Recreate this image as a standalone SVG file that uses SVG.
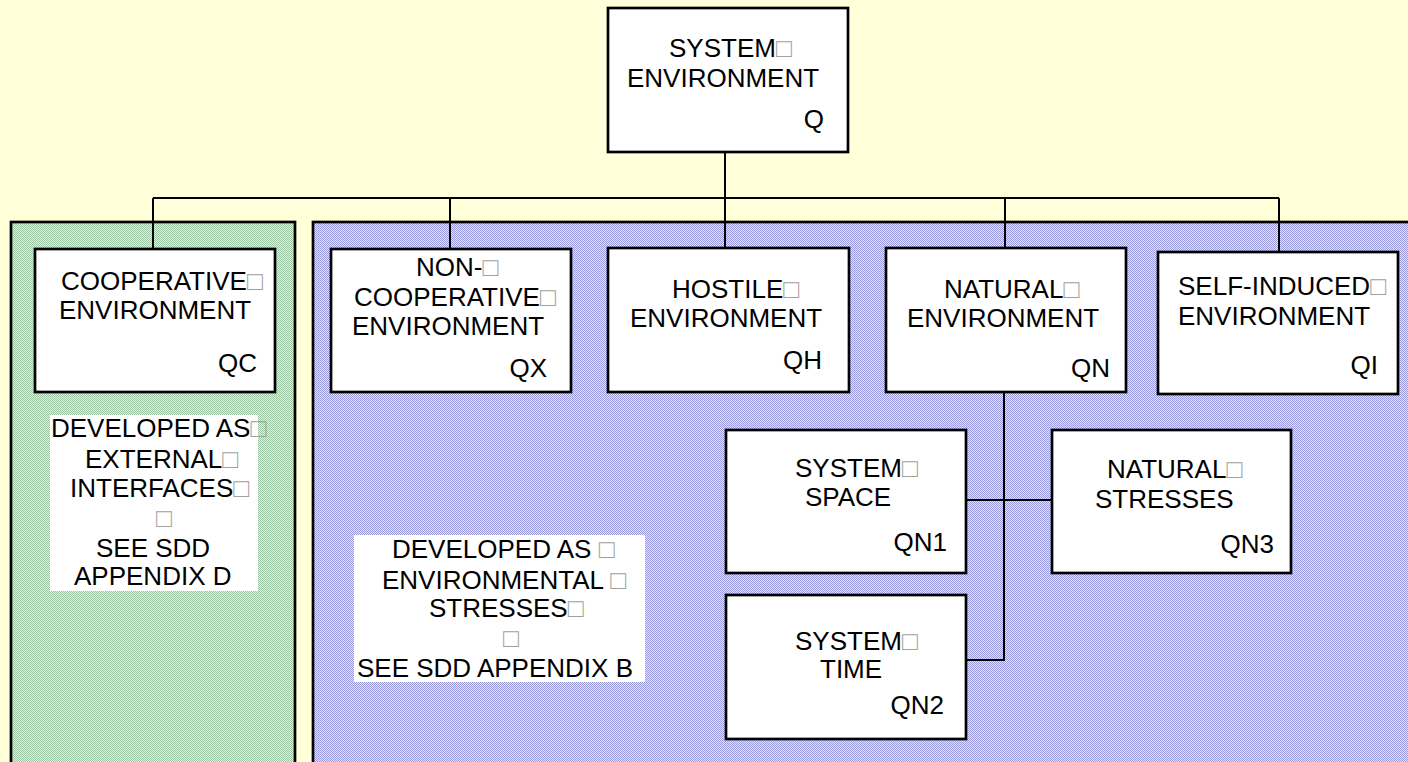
<svg xmlns="http://www.w3.org/2000/svg" width="1408" height="762" viewBox="0 0 1408 762">
  <defs>
    <!-- fine dithered fills for the two grouping panels -->
    <pattern id="ditherGreen" patternUnits="userSpaceOnUse" x="0" y="0" width="2" height="2">
      <rect width="2" height="2" fill="#e2efde"/>
      <rect width="1" height="1" fill="#9cc6a4"/>
      <rect x="1" y="1" width="1" height="1" fill="#9cc6a4"/>
    </pattern>
    <pattern id="ditherBlue" patternUnits="userSpaceOnUse" x="0" y="0" width="2" height="2">
      <rect width="2" height="2" fill="#e2e2f8"/>
      <rect width="1" height="1" fill="#9a9ae0"/>
      <rect x="1" y="1" width="1" height="1" fill="#9a9ae0"/>
    </pattern>
    <style>
      .box { fill: #ffffff; stroke: #000000; stroke-width: 2.7; }
      .panel { stroke: #000000; stroke-width: 2.7; }
      .wire { fill: none; stroke: #000000; stroke-width: 2; }
      .lbl { font-family: "Liberation Sans", Arial, sans-serif; font-size: 26px; fill: #000000; }
      .code { font-family: "Liberation Sans", Arial, sans-serif; font-size: 26px; fill: #000000; text-anchor: end; }
      .sq { fill: #a0a0a0; font-family: "Liberation Sans", "DejaVu Sans", sans-serif; }
      .note { fill: #ffffff; }
    </style>
  </defs>

  <!-- page background -->
  <rect x="0" y="0" width="1408" height="762" fill="#ffffd9"/>

  <!-- grouping panels -->
  <g id="panels">
    <rect class="panel" x="11" y="222" width="284" height="560" fill="url(#ditherGreen)"/>
    <rect class="panel" x="313" y="222" width="1110" height="560" fill="url(#ditherBlue)"/>
  </g>

  <!-- connectors -->
  <g id="connectors">
    <path class="wire" d="M725,152 V198"/>
    <path class="wire" d="M153,198 H1279"/>
    <path class="wire" d="M153,198 V249"/>
    <path class="wire" d="M450,198 V249"/>
    <path class="wire" d="M725,198 V248"/>
    <path class="wire" d="M1005,198 V248"/>
    <path class="wire" d="M1279,198 V252"/>
    <path class="wire" d="M1004,392 V660 H966"/>
    <path class="wire" d="M966,500 H1052"/>
  </g>

  <!-- top node -->
  <g id="node-Q">
    <rect class="box" x="608" y="8" width="240" height="144"/>
    <text class="lbl" x="669" y="57">SYSTEM<tspan class="sq">□</tspan></text>
    <text class="lbl" x="627" y="87">ENVIRONMENT</text>
    <text class="code" x="824" y="128">Q</text>
  </g>

  <g id="node-QC">
    <rect class="box" x="35" y="249" width="240" height="143"/>
    <text class="lbl" x="61" y="290">COOPERATIVE<tspan class="sq">□</tspan></text>
    <text class="lbl" x="59" y="318.5">ENVIRONMENT</text>
    <text class="code" x="257" y="372">QC</text>
  </g>

  <g id="node-QX">
    <rect class="box" x="331" y="249" width="240" height="143"/>
    <text class="lbl" x="416" y="276">NON-<tspan class="sq">□</tspan></text>
    <text class="lbl" x="354" y="306">COOPERATIVE<tspan class="sq">□</tspan></text>
    <text class="lbl" x="352" y="335">ENVIRONMENT</text>
    <text class="code" x="547" y="377">QX</text>
  </g>

  <g id="node-QH">
    <rect class="box" x="608" y="248" width="241" height="144"/>
    <text class="lbl" x="672" y="298">HOSTILE<tspan class="sq">□</tspan></text>
    <text class="lbl" x="630" y="327">ENVIRONMENT</text>
    <text class="code" x="822" y="369">QH</text>
  </g>

  <g id="node-QN">
    <rect class="box" x="886" y="248" width="240" height="144"/>
    <text class="lbl" x="944" y="298">NATURAL<tspan class="sq">□</tspan></text>
    <text class="lbl" x="907" y="327">ENVIRONMENT</text>
    <text class="code" x="1110" y="377">QN</text>
  </g>

  <g id="node-QI">
    <rect class="box" x="1158" y="252" width="240" height="142"/>
    <text class="lbl" x="1178" y="295">SELF-INDUCED<tspan class="sq">□</tspan></text>
    <text class="lbl" x="1178" y="325">ENVIRONMENT</text>
    <text class="code" x="1378" y="374">QI</text>
  </g>

  <g id="node-QN1">
    <rect class="box" x="726" y="430" width="240" height="143"/>
    <text class="lbl" x="795" y="477">SYSTEM<tspan class="sq">□</tspan></text>
    <text class="lbl" x="805" y="506">SPACE</text>
    <text class="code" x="947" y="551">QN1</text>
  </g>

  <g id="node-QN2">
    <rect class="box" x="726" y="595" width="240" height="144"/>
    <text class="lbl" x="795" y="650">SYSTEM<tspan class="sq">□</tspan></text>
    <text class="lbl" x="820" y="678">TIME</text>
    <text class="code" x="944" y="714">QN2</text>
  </g>

  <g id="node-QN3">
    <rect class="box" x="1052" y="430" width="239" height="143"/>
    <text class="lbl" x="1107" y="478">NATURAL<tspan class="sq">□</tspan></text>
    <text class="lbl" x="1095" y="508">STRESSES</text>
    <text class="code" x="1274" y="553">QN3</text>
  </g>

  <!-- panel notes -->
  <g id="note-external">
    <rect class="note" x="50" y="415" width="208" height="176"/>
    <text class="lbl" x="51" y="437">DEVELOPED AS<tspan class="sq">□</tspan></text>
    <text class="lbl" x="85" y="468">EXTERNAL<tspan class="sq">□</tspan></text>
    <text class="lbl" x="70" y="497">INTERFACES<tspan class="sq">□</tspan></text>
    <text class="lbl sq" x="156" y="527">□</text>
    <text class="lbl" x="96" y="557">SEE SDD</text>
    <text class="lbl" x="74" y="585">APPENDIX D</text>
  </g>

  <g id="note-stresses">
    <rect class="note" x="354" y="535" width="291" height="147"/>
    <text class="lbl" x="392" y="558">DEVELOPED AS <tspan class="sq">□</tspan></text>
    <text class="lbl" x="382" y="589">ENVIRONMENTAL <tspan class="sq">□</tspan></text>
    <text class="lbl" x="429" y="617">STRESSES<tspan class="sq">□</tspan></text>
    <text class="lbl sq" x="503" y="647">□</text>
    <text class="lbl" x="357" y="677">SEE SDD APPENDIX B</text>
  </g>
</svg>
